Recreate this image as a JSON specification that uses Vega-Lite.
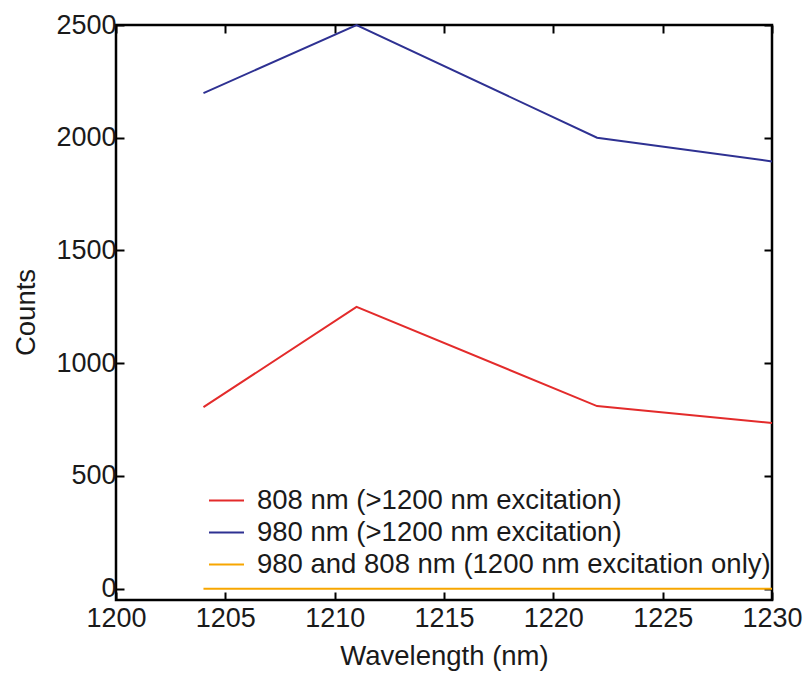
{
  "$schema": "https://vega.github.io/schema/vega-lite/v6.json",
  "width": 656,
  "height": 575,
  "autosize": "none",
  "padding": {"left": 116, "top": 25, "right": 37, "bottom": 75},
  "config": {
    "font": "Liberation Sans",
    "view": {"stroke": "black", "strokeWidth": 2.5},
    "axis": {"domain": false, "grid": false, "tickColor": "black", "tickWidth": 2, "labelColor": "#1a1a1a", "titleColor": "#1a1a1a", "labelFontSize": 27, "titleFontSize": 27.5, "titleFontWeight": "normal"}
  },
  "data": {
    "values": [
      {"series": "808 nm (>1200 nm excitation)", "wavelength": 1204, "counts": 805},
      {"series": "808 nm (>1200 nm excitation)", "wavelength": 1211, "counts": 1250},
      {"series": "808 nm (>1200 nm excitation)", "wavelength": 1222, "counts": 810},
      {"series": "808 nm (>1200 nm excitation)", "wavelength": 1230, "counts": 735},
      {"series": "980 nm (>1200 nm excitation)", "wavelength": 1204, "counts": 2198},
      {"series": "980 nm (>1200 nm excitation)", "wavelength": 1211, "counts": 2500},
      {"series": "980 nm (>1200 nm excitation)", "wavelength": 1222, "counts": 2000},
      {"series": "980 nm (>1200 nm excitation)", "wavelength": 1230, "counts": 1895},
      {"series": "980 and 808 nm (1200 nm excitation only)", "wavelength": 1204, "counts": 0},
      {"series": "980 and 808 nm (1200 nm excitation only)", "wavelength": 1211, "counts": 0},
      {"series": "980 and 808 nm (1200 nm excitation only)", "wavelength": 1222, "counts": 0},
      {"series": "980 and 808 nm (1200 nm excitation only)", "wavelength": 1230, "counts": 0}
    ]
  },
  "layer": [
    {
      "mark": {"type": "line", "strokeWidth": 2},
      "encoding": {
        "x": {
          "field": "wavelength", "type": "quantitative",
          "scale": {"domain": [1200, 1230], "nice": false, "zero": false},
          "axis": {"orient": "bottom", "format": "d", "values": [1200, 1205, 1210, 1215, 1220, 1225, 1230], "tickSize": -8, "labelPadding": 13, "labelFlush": false, "title": "Wavelength (nm)", "titleX": 328, "titleY": 56, "titleBaseline": "middle", "titleAlign": "center"}
        },
        "y": {
          "field": "counts", "type": "quantitative",
          "scale": {"domain": [-50, 2500], "nice": false, "zero": false},
          "axis": {"orient": "left", "format": "d", "values": [0, 500, 1000, 1500, 2000, 2500], "tickSize": -8, "labelPadding": 8, "labelFlush": false, "title": "Counts", "titleX": -90, "titleY": 287, "titleBaseline": "middle", "titleAlign": "center", "titleAngle": -90}
        },
        "color": {
          "field": "series", "type": "nominal",
          "scale": {
            "domain": ["808 nm (>1200 nm excitation)", "980 nm (>1200 nm excitation)", "980 and 808 nm (1200 nm excitation only)"],
            "range": ["#e32b2b", "#2e3192", "#f7a600"]
          },
          "legend": {"title": null, "orient": "none", "legendX": 92, "legendY": 457, "symbolType": "stroke", "symbolSize": 1225, "symbolStrokeWidth": 2, "labelFontSize": 27.5, "labelColor": "#1a1a1a", "labelOffset": 12, "rowPadding": 0, "padding": 0, "labelLimit": 700}
        }
      }
    },
    {
      "mark": {"type": "line", "opacity": 0},
      "encoding": {
        "x": {"field": "wavelength", "type": "quantitative", "axis": {"orient": "top", "values": [1200, 1205, 1210, 1215, 1220, 1225, 1230], "tickSize": -8, "labels": false, "title": null}},
        "y": {"field": "counts", "type": "quantitative", "axis": {"orient": "right", "values": [0, 500, 1000, 1500, 2000, 2500], "tickSize": -8, "labels": false, "title": null}},
        "detail": {"field": "series"}
      }
    }
  ],
  "resolve": {"axis": {"x": "independent", "y": "independent"}}
}
